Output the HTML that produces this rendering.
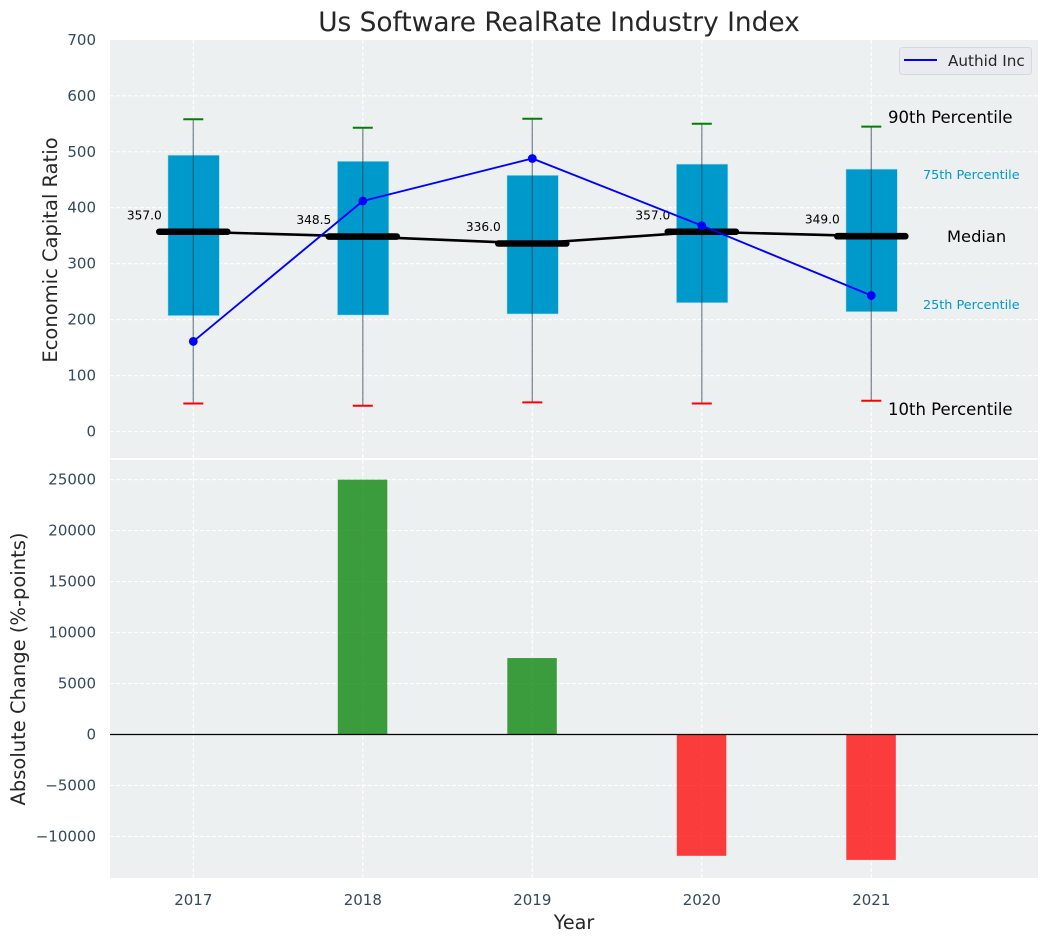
<!DOCTYPE html>
<html>
<head>
<meta charset="utf-8">
<title>Us Software RealRate Industry Index</title>
<style>
html,body{margin:0;padding:0;background:#fff;width:1048px;height:942px;overflow:hidden}
svg{display:block}
text{font-family:"DejaVu Sans","Liberation Sans",sans-serif}
</style>
</head>
<body>
<svg id="chart" width="1048" height="942" viewBox="0 0 1048 942" xmlns="http://www.w3.org/2000/svg"></svg>
<script>
const years = [2017, 2018, 2019, 2020, 2021];
const p90 = [558, 543, 559, 550, 545];
const p75 = [494, 483, 458, 478, 469];
const medians = [357.0, 348.5, 336.0, 357.0, 349.0];
const p25 = [207, 208, 210, 230, 214];
const p10 = [50, 46, 52, 50, 55];
const authid = [161, 412, 488, 368, 243];
const changes = [0, 25000, 7500, -11900, -12300];
const topTicks = [0, 100, 200, 300, 400, 500, 600, 700];
const bottomTicks = [-10000, -5000, 0, 5000, 10000, 15000, 20000, 25000];

const NS = 'http://www.w3.org/2000/svg';
const svg = document.getElementById('chart');
function mk(tag, attrs, parent, txt) {
  const e = document.createElementNS(NS, tag);
  for (const k in attrs) e.setAttribute(k, attrs[k]);
  if (txt !== undefined) e.textContent = txt;
  (parent || svg).appendChild(e);
  return e;
}
const L = 110, R = 1038, T1 = 40, B1 = 458, T2 = 460, B2 = 878;
const x = v => 193.3 + (v - years[0]) * 169.5;
const y1 = v => 431.5 - v * 0.5595;
const y2 = v => 734.5 - v * 0.010195;

const topPanel = mk('rect', {x: L, y: T1, width: R - L, height: B1 - T1, fill: '#ecf0f1'});


const bottomPanel = mk('rect', {x: L, y: T2, width: R - L, height: B2 - T2, fill: '#ecf0f1'});



const gridStyle = {stroke: '#ffffff', 'stroke-width': 1.1, 'stroke-dasharray': '4 2'};
function gridLine(x1, y1v, x2, y2v) {
  const g = mk('line', Object.assign({x1: x1, y1: y1v, x2: x2, y2: y2v}, gridStyle));
  
  
}
years.forEach(function (yr) {
  gridLine(x(yr), T1, x(yr), B1);
  gridLine(x(yr), T2, x(yr), B2);
});
topTicks.forEach(function (t) {
  if (t < 700) gridLine(L, y1(t), R, y1(t));
  const lb = mk('text', {x: 96, y: y1(t) + 5, 'text-anchor': 'end', 'font-size': 15, fill: '#34495e'}, svg, String(t));
  
  
});
bottomTicks.forEach(function (t) {
  gridLine(L, y2(t), R, y2(t));
  const lb = mk('text', {x: 96, y: y2(t) + 5, 'text-anchor': 'end', 'font-size': 15, fill: '#34495e'}, svg, String(t).replace('-', '\u2212'));
  
  
});
years.forEach(function (yr) {
  const lb = mk('text', {x: x(yr), y: 905, 'text-anchor': 'middle', 'font-size': 15, fill: '#34495e'}, svg, String(yr));
  
  
});

/* boxes */
years.forEach(function (yr, i) {
  const b = mk('rect', {x: x(yr) - 25.4, y: y1(p75[i]), width: 51.5, height: y1(p25[i]) - y1(p75[i]), fill: '#0099cc', stroke: '#bfe3ee', 'stroke-width': 0.6});
  
  
});
/* whiskers */
years.forEach(function (yr, i) {
  const w = mk('line', {x1: x(yr), y1: y1(p90[i]), x2: x(yr), y2: y1(p10[i]), stroke: '#2c3e50', 'stroke-width': 1.4, opacity: 0.55});
  
  
  const c1 = mk('line', {x1: x(yr) - 10, y1: y1(p90[i]), x2: x(yr) + 10, y2: y1(p90[i]), stroke: '#008000', 'stroke-width': 2});
  
  
  const c2 = mk('line', {x1: x(yr) - 10, y1: y1(p10[i]), x2: x(yr) + 10, y2: y1(p10[i]), stroke: '#ff0000', 'stroke-width': 2});
  
  
});
/* median connecting line */
const medianLine = mk('polyline', {points: years.map(function (yr, i) { return x(yr) + ',' + y1(medians[i]); }).join(' '), fill: 'none', stroke: '#000', 'stroke-width': 2.6});


years.forEach(function (yr, i) {
  const m = mk('line', {x1: x(yr) - 34, y1: y1(medians[i]), x2: x(yr) + 34, y2: y1(medians[i]), stroke: '#000', 'stroke-width': 6.6, 'stroke-linecap': 'round'});
  
  
  const t = mk('text', {x: x(yr) - 31.5, y: y1(medians[i]) - 12.5, 'text-anchor': 'end', 'font-size': 12.2, fill: '#000'}, svg, medians[i].toFixed(1));
  
  
});
/* company line */
const coLine = mk('polyline', {points: years.map(function (yr, i) { return x(yr) + ',' + y1(authid[i]); }).join(' '), fill: 'none', stroke: '#0000ff', 'stroke-width': 1.9});


years.forEach(function (yr, i) {
  const p = mk('circle', {cx: x(yr), cy: y1(authid[i]), r: 4.4, fill: '#0000ff'});
  
  
});
/* percentile annotations */
function note(name, tx, ty, size, color, s) {
  const t = mk('text', {x: tx, y: ty, 'font-size': size, fill: color}, svg, s);
  
  
}
note('p90-annotation', 888, 123, 16.5, '#000', '90th Percentile');
note('p75-annotation', 923, 179, 12.8, '#0099cc', '75th Percentile');
note('median-annotation', 947, 242, 16.3, '#000', 'Median');
note('p25-annotation', 923, 309, 12.8, '#0099cc', '25th Percentile');
note('p10-annotation', 888, 415, 16.5, '#000', '10th Percentile');

/* bars */
years.forEach(function (yr, i) {
  const v = changes[i];
  if (v === 0) return;
  const b = mk('rect', {x: x(yr) - 25, y: Math.min(y2(0), y2(v)), width: 49.5, height: Math.abs(y2(v) - y2(0)), fill: v >= 0 ? '#008000' : '#ff0000', 'fill-opacity': 0.75});
  
  
});
const zeroLine = mk('line', {x1: L, y1: y2(0), x2: R, y2: y2(0), stroke: '#000', 'stroke-width': 1.2});



/* legend */
const legendBox = mk('rect', {x: 899.5, y: 47.5, width: 132, height: 27, rx: 3, fill: '#eaebf1', stroke: '#d5d8dc', 'stroke-width': 1});


const legendLine = mk('line', {x1: 904, y1: 60, x2: 937, y2: 60, stroke: '#0000ff', 'stroke-width': 1.9});


const legendText = mk('text', {x: 948, y: 66, 'font-size': 15.2, fill: '#262626'}, svg, 'Authid Inc');



/* titles */
const title = mk('text', {x: 559, y: 31, 'text-anchor': 'middle', 'font-size': 26.4, fill: '#262626'}, svg, 'Us Software RealRate Industry Index');


const xTitle = mk('text', {x: 574, y: 929, 'text-anchor': 'middle', 'font-size': 19.2, fill: '#262626'}, svg, 'Year');


const yTop = mk('text', {transform: 'translate(57,250) rotate(-90)', 'text-anchor': 'middle', 'font-size': 19.5, fill: '#262626'}, svg, 'Economic Capital Ratio');


const yBot = mk('text', {transform: 'translate(25,669) rotate(-90)', 'text-anchor': 'middle', 'font-size': 19.5, fill: '#262626'}, svg, 'Absolute Change (%-points)');


</script>
</body>
</html>
